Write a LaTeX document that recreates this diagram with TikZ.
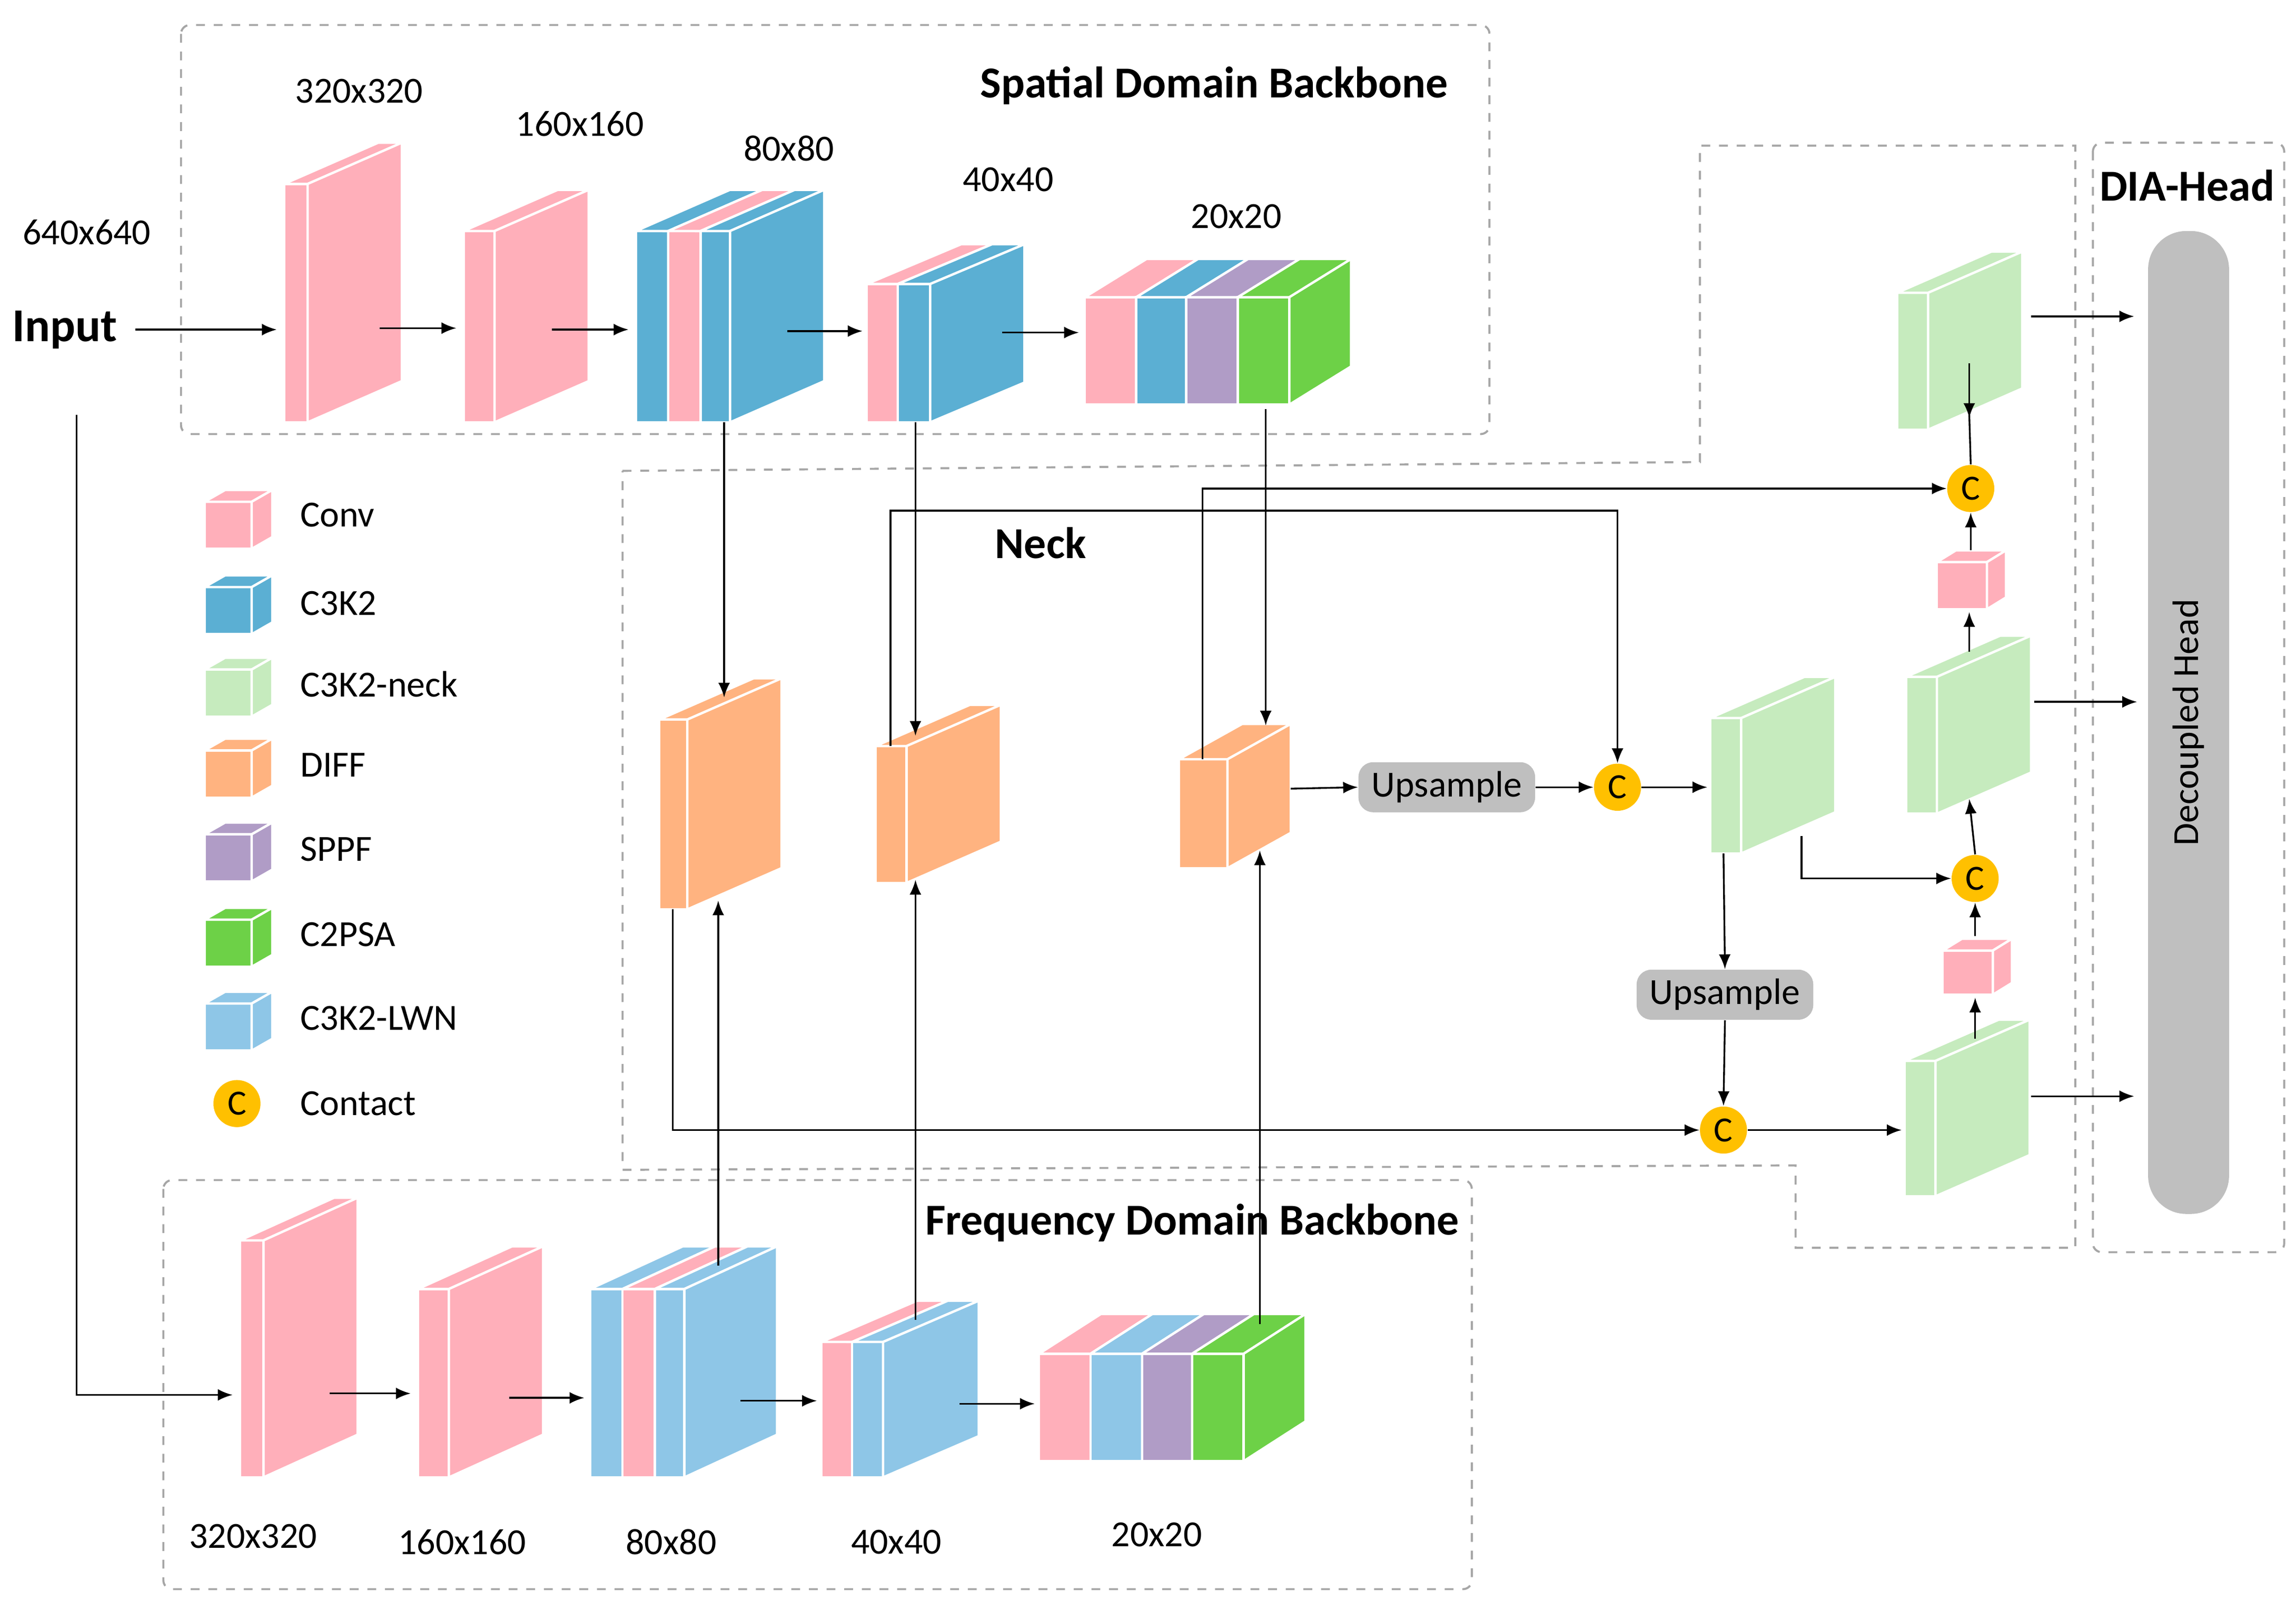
\documentclass[tikz,border=0pt]{standalone}
\usepackage{fontspec}
\setmainfont{Carlito}
\usetikzlibrary{arrows.meta,positioning}

\definecolor{convc}{HTML}{FFAFBA}
\definecolor{ckc}{HTML}{5BAFD3}
\definecolor{neckc}{HTML}{C6EBBE}
\definecolor{diffc}{HTML}{FFB380}
\definecolor{sppfc}{HTML}{B09CC6}
\definecolor{psac}{HTML}{6DD147}
\definecolor{lwnc}{HTML}{8EC6E7}
\definecolor{catc}{HTML}{FFC000}
\definecolor{boxg}{HTML}{BFBFBF}

% slab: x, y (top-left of front), width, height, depth x, depth y, colour
\newcommand{\slab}[7]{%
  \filldraw[fill=#7,draw=white,line width=0.8pt] (#1,#2) rectangle ++(#3,#4);
  \filldraw[fill=#7,draw=white,line width=0.8pt] (#1,#2) -- ++(#5,-#6) -- ++(#3,0) -- ++(-#5,#6) -- cycle;
  \filldraw[fill=#7,draw=white,line width=0.8pt] (#1+#3,#2) -- ++(#5,-#6) -- ++(0,#4) -- ++(-#5,#6) -- cycle;}

\tikzset{
  arr/.style={-{Latex[length=5pt,width=4pt]}, line width=0.6pt},
  ln/.style={line width=0.6pt},
  region/.style={dashed, draw=black!35, line width=0.7pt, rounded corners=3pt},
  cat/.style={circle, fill=catc, minimum size=16pt, inner sep=0pt, font=\fontsize{12}{14}\selectfont},
  upbox/.style={rounded corners=5pt, fill=boxg, minimum width=60pt, minimum height=17pt, inner sep=1pt, font=\fontsize{12.5}{14}\selectfont},
  lbl/.style={font=\fontsize{12.5}{14}\selectfont},
  ttl/.style={font=\bfseries\fontsize{15}{18}\selectfont}
}

\begin{document}
\begin{tikzpicture}[x=0.5pt, y=-0.5pt]
    \useasboundingbox (0,0) rectangle (1560,1088);

    % Regions
    \draw[region] (123,17) rectangle (1012,295);
    \draw[region] (111,802) rectangle (1000,1080);
    \draw[region, rounded corners=0pt] (423,320) -- (1155,314) -- (1155,99) -- (1410,99)
        -- (1410,848) -- (1220,848) -- (1220,792) -- (423,795) -- cycle;
    \draw[region] (1422,97) rectangle (1552,851);

    \node[ttl] (tsp) at (825,58) {Spatial Domain Backbone};
    \node[ttl] (tfr) at (810,831) {Frequency Domain Backbone};
    \node[ttl] (tnk) at (707,369) {Neck};
    \node[ttl] (thd) at (1486,126) {DIA-Head};

    % Spatial backbone
    \node[font=\bfseries\fontsize{16}{18}\selectfont] (in) at (44,224) {Input};
    \node[lbl] (r640) at (59,158) {640x640};
    \slab{193}{125}{16}{162}{64}{28}{convc}
    \slab{315}{157}{21}{130}{64}{28}{convc}
    \slab{432}{157}{22}{130}{64}{28}{ckc}
    \slab{454}{157}{22}{130}{64}{28}{convc}
    \slab{476}{157}{20}{130}{64}{28}{ckc}
    \slab{589}{193}{21}{94}{64}{27}{convc}
    \slab{610}{193}{22}{94}{64}{27}{ckc}
    \slab{737}{202}{35}{73}{42}{26}{convc}
    \slab{772}{202}{34}{73}{42}{26}{ckc}
    \slab{806}{202}{35}{73}{42}{26}{sppfc}
    \slab{841}{202}{35}{73}{42}{26}{psac}
    \node[lbl] (s320) at (244,62) {320x320};
    \node[lbl] (s160) at (394,84) {160x160};
    \node[lbl] (s80) at (536,101) {80x80};
    \node[lbl] (s40) at (685,122) {40x40};
    \node[lbl] (s20) at (840,147) {20x20};
    \draw[arr] (92,224) -- (188,224);
    \draw[arr] (258,223) -- (310,223);
    \draw[arr] (375,224) -- (427,224);
    \draw[arr] (535,225) -- (586,225);
    \draw[arr] (681,226) -- (733,226);

    % Frequency backbone
    \slab{163}{843}{16}{161}{64}{29}{convc}
    \slab{284}{876}{21}{128}{64}{29}{convc}
    \slab{401}{876}{22}{128}{63}{29}{lwnc}
    \slab{423}{876}{22}{128}{63}{29}{convc}
    \slab{445}{876}{20}{128}{63}{29}{lwnc}
    \slab{558}{912}{21}{92}{65}{28}{convc}
    \slab{579}{912}{21}{92}{65}{28}{lwnc}
    \slab{706}{920}{35}{73}{42}{27}{convc}
    \slab{741}{920}{35}{73}{42}{27}{lwnc}
    \slab{776}{920}{34}{73}{42}{27}{sppfc}
    \slab{810}{920}{35}{73}{42}{27}{psac}
    \node[lbl] (f320) at (172,1044) {320x320};
    \node[lbl] (f160) at (314,1048) {160x160};
    \node[lbl] (f80) at (456,1048) {80x80};
    \node[lbl] (f40) at (609,1048) {40x40};
    \node[lbl] (f20) at (786,1043) {20x20};
    \draw[arr] (52,282) |- (158,948);
    \draw[arr] (224,947) -- (279,947);
    \draw[arr] (346,950) -- (397,950);
    \draw[arr] (503,952) -- (555,952);
    \draw[arr] (652,954) -- (703,954);

    % Neck blocks
    \slab{448}{489}{19}{129}{64}{28}{diffc}
    \slab{595}{507}{21}{93}{64}{28}{diffc}
    \slab{801}{516}{33}{74}{43}{24}{diffc}
    \slab{1162}{488}{21}{92}{64}{28}{neckc}
    \slab{1295}{460}{21}{93}{64}{28}{neckc}
    \slab{1294}{721}{21}{92}{64}{28}{neckc}
    \slab{1289}{199}{21}{93}{64}{28}{neckc}
    \slab{1316}{382}{34}{32}{13}{8}{convc}
    \slab{1320}{646}{34}{30}{13}{8}{convc}

    \node[cat] (c1) at (1339,332) {C};
    \node[cat] (c2) at (1099,535) {C};
    \node[cat] (c3) at (1342,597) {C};
    \node[cat] (c4) at (1171,768) {C};
    \node[upbox] (up1) at (983,535) {Upsample};
    \node[upbox] (up2) at (1172,676) {Upsample};
    \node[rounded corners=13pt, fill=boxg, minimum width=27.5pt, minimum height=334pt] (head) at (1487,491) {};
    \node[lbl, rotate=90] (headt) at (head.center) {Decoupled Head};

    % Backbone to DIFF
    \draw[arr] (492,287) -- (492,474);
    \draw[arr] (622,287) -- (622,500);
    \draw[arr] (860,278) -- (860,493);
    \draw[arr] (488,860) -- (488,612);
    \draw[arr] (622,897) -- (622,598);
    \draw[arr] (856,900) -- (856,578);

    % Neck connections
    \draw[arr] (877,536) -- (up1.west);
    \draw[arr] (up1.east) -- (c2.west);
    \draw[arr] (c2.east) -- (1160,535);
    \draw[arr] (605,507) -- (605,347) -| (c2.north);
    \draw[arr] (817,516) -- (817,332) -- (c1.west);
    \draw[arr] (1224,568) |- (c3.west);
    \draw[arr] (1171,580) -- (up2.north);
    \draw[arr] (up2.south) -- (c4.north);
    \draw[arr] (457,618) |- (c4.west);
    \draw[arr] (c4.east) -- (1292,768);
    \draw[arr] (1342,706) -- (1342,678);
    \draw[arr] (1342,636) -- (c3.south);
    \draw[arr] (c3.north) -- (1338,543);
    \draw[arr] (1338,443) -- (1338,416);
    \draw[arr] (1339,374) -- (c1.south);
    \draw[ln] (c1.north) -- (1338,282);
    \draw[arr] (1338,247) -- (1338,284);
    \draw[arr] (1380,215) -- (1450,215);
    \draw[arr] (1382,477) -- (1452,477);
    \draw[arr] (1380,745) -- (1450,745);

    % Legend
    \slab{139}{341}{32}{32}{14}{8}{convc}
    \slab{139}{399}{32}{32}{14}{8}{ckc}
    \slab{139}{455}{32}{32}{14}{8}{neckc}
    \slab{139}{510}{32}{32}{14}{8}{diffc}
    \slab{139}{567}{32}{32}{14}{8}{sppfc}
    \slab{139}{625}{32}{32}{14}{8}{psac}
    \slab{139}{682}{32}{32}{14}{8}{lwnc}
    \node[cat] (lc) at (161,750) {C};
    \node[lbl, anchor=west] (l1) at (197,350) {Conv};
    \node[lbl, anchor=west] (l2) at (197,410) {C3K2};
    \node[lbl, anchor=west] (l3) at (197,465) {C3K2-neck};
    \node[lbl, anchor=west] (l4) at (197,520) {DIFF};
    \node[lbl, anchor=west] (l5) at (197,577) {SPPF};
    \node[lbl, anchor=west] (l6) at (197,635) {C2PSA};
    \node[lbl, anchor=west] (l7) at (197,692) {C3K2-LWN};
    \node[lbl, anchor=west] (l8) at (197,750) {Contact};
\end{tikzpicture}
\end{document}
